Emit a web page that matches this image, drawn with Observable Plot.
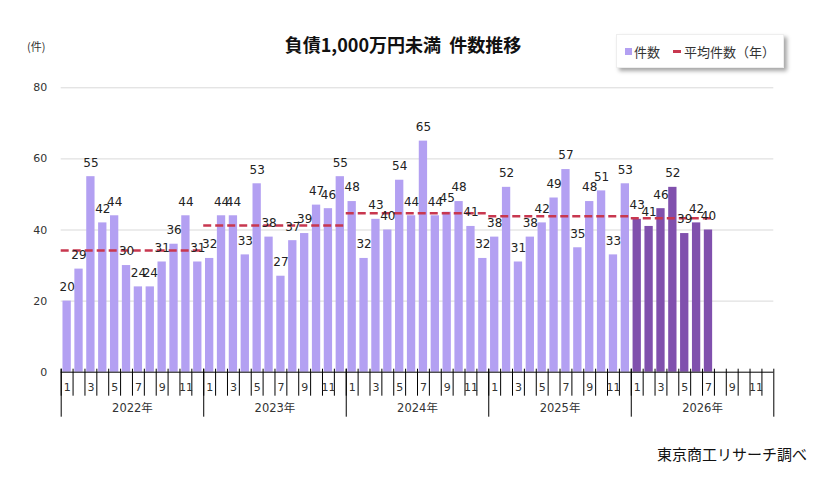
<!DOCTYPE html>
<html>
<head>
<meta charset="utf-8">
<script src="https://cdn.jsdelivr.net/npm/d3@7"></script>
<script src="https://cdn.jsdelivr.net/npm/@observablehq/plot@0.6"></script>
<style>
  html, body { margin: 0; padding: 0; background: #fff; }
  #wrap { position: relative; width: 829px; height: 478px; overflow: hidden; font-family: "DejaVu Sans", "Noto Sans CJK JP", sans-serif; }
  #title { position: absolute; left: 0; width: 806px; top: 31px; text-align: center; font-family: "Noto Sans CJK JP", sans-serif; font-weight: bold; font-size: 18px; color: #111; }
  #unit { position: absolute; left: 27px; top: 38px; font-size: 11px; color: #333; font-family: "Noto Sans CJK JP", sans-serif; }
  #legend { position: absolute; left: 616px; top: 34px; width: 166px; height: 32px; background: #fff; border: 1px solid #eee; box-shadow: 3px 3px 4px rgba(0,0,0,0.35); font-family: "Noto Sans CJK JP", sans-serif; font-size: 13px; color: #333; display: flex; align-items: center; }
  #legend .sq { display: inline-block; width: 7px; height: 7px; background: #b3a0f2; margin: 0 2px 0 8px; }
  #legend .dash { display: inline-block; width: 8px; height: 3px; background: #c8374f; margin: 0 3px 0 13px; }
  #caption { position: absolute; right: 22px; top: 443px; font-family: "Noto Sans CJK JP", sans-serif; font-size: 15px; color: #111; }
  #chart { position: absolute; left: 0; top: 0; }
</style>
</head>
<body>
<div id="wrap">
  <div id="chart"></div>
  <div id="title">負債1,000万円未満&nbsp;&nbsp;件数推移</div>
  <div id="unit">(件)</div>
  <div id="legend"><span class="sq"></span><span>件数</span><span class="dash"></span><span>平均件数（年）</span></div>
  <div id="caption">東京商工リサーチ調べ</div>
</div>
<script>
// ---- data ----
const years = ["2022年", "2023年", "2024年", "2025年", "2026年"];
const counts2022 = [20, 29, 55, 42, 44, 30, 24, 24, 31, 36, 44, 31];
const counts2023 = [32, 44, 44, 33, 53, 38, 27, 37, 39, 47, 46, 55];
const counts2024 = [48, 32, 43, 40, 54, 44, 65, 44, 45, 48, 41, 32];
const counts2025 = [38, 52, 31, 38, 42, 49, 57, 35, 48, 51, 33, 53];
const counts2026 = [43, 41, 46, 52, 39, 42, 40];
const yearAverages = [34.2, 41.3, 44.7, 43.9, 43.3];
const monthLabels = ["1", "", "3", "", "5", "", "7", "", "9", "", "11", ""];
const yTicks = [0, 20, 40, 60, 80];

// ---- build tables ----
const yearCounts = [counts2022, counts2023, counts2024, counts2025, counts2026];
const rows = [];
yearCounts.forEach((arr, yi) => arr.forEach((v, m) => rows.push({idx: yi * 12 + m, year: years[yi], count: v, current: yi === years.length - 1})));
const nMonths = years.length * 12;
const monthSlots = d3.range(nMonths).map(i => ({idx: i, label: monthLabels[i % 12]}));
const avgRows = yearAverages.map((a, yi) => ({avg: a, start: yi * 12, end: yi * 12 + yearCounts[yi].length - 1}));
const yearRows = years.map((y, yi) => ({year: y, mid: yi * 12 + 6}));

const W = 829, H = 478, mL = 60.7, mR = 55.7, mT = 87.3, mB = 106.3;
const step = (W - mL - mR) / nMonths;
const padIn = 0.3;

const light = "#b3a0f2", dark = "#8050ad", avgColor = "#c8374f";

const chart = Plot.plot({
  width: W, height: H,
  marginLeft: mL, marginRight: mR, marginTop: mT, marginBottom: mB,
  style: {fontFamily: "'DejaVu Sans', sans-serif", fontSize: "11px", color: "#333", overflow: "visible", background: "transparent"},
  x: {type: "band", domain: d3.range(nMonths), paddingInner: padIn, paddingOuter: padIn / 2, axis: null},
  y: {domain: [0, 80], axis: null},
  marks: [
    Plot.gridY(yTicks.slice(1), {stroke: "#d9d9d9", strokeOpacity: 1}),
    Plot.axisY(yTicks, {tickSize: 0, tickPadding: 14, fontSize: 11, fill: "#333"}),
    Plot.barY(rows, {x: "idx", y: "count", fill: d => d.current ? dark : light}),
    Plot.ruleY(avgRows, {y: "avg", x1: "start", x2: "end", stroke: avgColor, strokeWidth: 2.5, strokeDasharray: "8,4",
      insetLeft: -step * padIn / 2, insetRight: -step * padIn / 2}),
    Plot.text(rows, {x: "idx", y: "count", text: d => String(d.count), dy: -14, fontSize: 12, fill: "#222"}),
    Plot.ruleY([0], {stroke: "#000", strokeWidth: 1}),
    // month dividers
    Plot.ruleX(monthSlots, {x: "idx", y1: 0, y2: 0, dx: -step / 2, insetTop: -3, insetBottom: -24, stroke: "#000"}),
    // year dividers
    Plot.ruleX(yearRows, {x: d => d.mid - 6, y1: 0, y2: 0, dx: -step / 2, insetTop: -3, insetBottom: -45, stroke: "#000"}),
    Plot.ruleX([nMonths - 1], {x: d => d, y1: 0, y2: 0, dx: step / 2, insetTop: -3, insetBottom: -45, stroke: "#000"}),
    // month labels
    Plot.text(monthSlots.filter(d => d.label), {x: "idx", y: 0, text: "label", dy: 15, fontSize: 11, fill: "#333"}),
    // year labels
    Plot.text(yearRows, {x: "mid", y: 0, text: "year", dx: -step / 2, dy: 36, fontSize: 11.5, fill: "#333", fontFamily: "'DejaVu Sans', 'Noto Sans CJK JP', sans-serif"})
  ]
});
document.getElementById("chart").appendChild(chart);
</script>
</body>
</html>
